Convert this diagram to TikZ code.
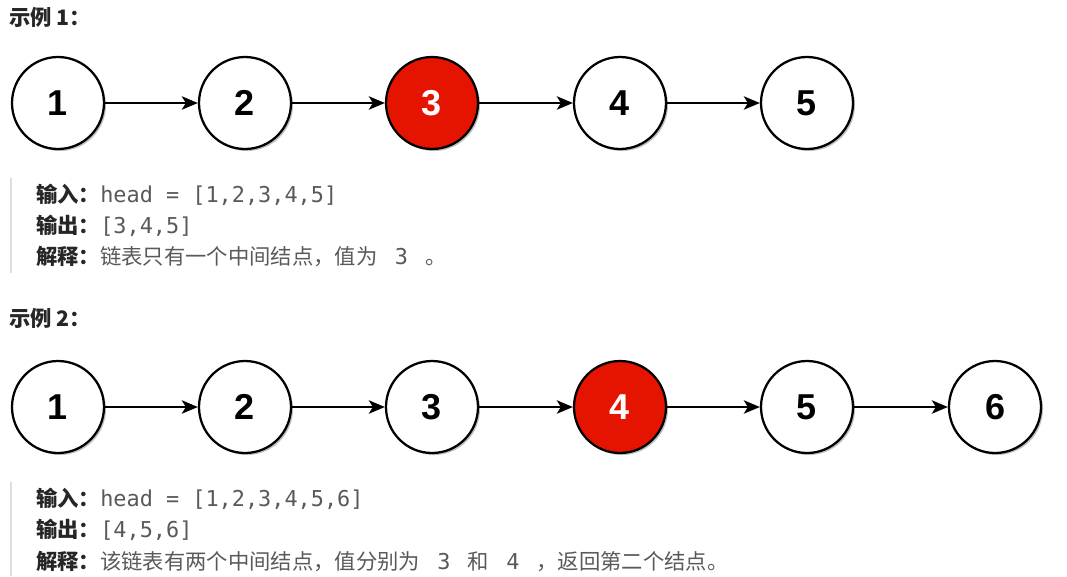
\documentclass[tikz,border=0pt]{standalone}
\usepackage{fontspec}
\setmainfont{Liberation Sans}
\newfontfamily\cjk{Noto Sans CJK SC}
\newfontfamily\mono{DejaVu Sans Mono}
\usetikzlibrary{arrows.meta,shadows}
\definecolor{nodered}{HTML}{E51400}
\definecolor{txtgray}{HTML}{595959}
\definecolor{lblgray}{HTML}{262626}
\definecolor{bargray}{HTML}{DDDDDD}
\tikzset{
  lnode/.style={circle,draw=black,line width=1.7pt,fill=white,minimum size=69pt,inner sep=0pt,
    font=\fontsize{27}{27}\selectfont\bfseries,text=black,
    drop shadow={shadow xshift=1.5pt,shadow yshift=-1.5pt,opacity=0.25,fill=black}},
  hot/.style={fill=nodered,text=white},
  link/.style={line width=1.6pt,-{Stealth[length=12pt,width=10pt,inset=3pt]}},
  title/.style={anchor=west,inner sep=0pt,font=\cjk\bfseries\fontsize{16}{16}\selectfont,text=lblgray},
  line/.style={anchor=west,inner sep=0pt,font=\fontsize{16}{16}\selectfont,text=txtgray},
  bar/.style={draw=bargray,line width=1.5pt}
}
\newcommand{\lb}[1]{{\cjk\bfseries\color{lblgray}#1}}
\newcommand{\mt}[1]{{\mono\fontsize{16.4}{16.4}\selectfont #1}}
\newcommand{\ct}[1]{{\cjk\fontsize{16}{16}\selectfont #1}}
\begin{document}
\begin{tikzpicture}[x=0.75pt,y=-0.75pt]
\useasboundingbox (0,0) rectangle (1067,576);
% Example 1
\node[title] (t1) at (9,17) {示例 1：};
\node[lnode] (a1) at (58,103) {1};
\node[lnode] (a2) at (245,103) {2};
\node[lnode,hot] (a3) at (432,103) {3};
\node[lnode] (a4) at (620,103) {4};
\node[lnode] (a5) at (807,103) {5};
\draw[link] (a1) -- (a2);
\draw[link] (a2) -- (a3);
\draw[link] (a3) -- (a4);
\draw[link] (a4) -- (a5);
\coordinate (b1s) at (11,178);
\coordinate (b1e) at (11,273);
\draw[bar] (b1s) -- (b1e);
\node[line] (i1) at (36,195) {\lb{\ct{输入：}}\mt{head = [1,2,3,4,5]}};
\node[line] (o1) at (36,226) {\lb{\ct{输出：}}\mt{[3,4,5]}};
\node[line] (e1) at (36,257) {\lb{\ct{解释：}}\ct{链表只有一个中间结点，值为}\mt{\hspace{3pt} 3 \hspace{3pt}}\ct{。}};
% Example 2
\node[title] (t2) at (9,318) {示例 2：};
\node[lnode] (c1) at (58,407) {1};
\node[lnode] (c2) at (245,407) {2};
\node[lnode] (c3) at (432,407) {3};
\node[lnode,hot] (c4) at (620,407) {4};
\node[lnode] (c5) at (807,407) {5};
\node[lnode] (c6) at (995,407) {6};
\draw[link] (c1) -- (c2);
\draw[link] (c2) -- (c3);
\draw[link] (c3) -- (c4);
\draw[link] (c4) -- (c5);
\draw[link] (c5) -- (c6);
\coordinate (b2s) at (11,482);
\coordinate (b2e) at (11,576);
\draw[bar] (b2s) -- (b2e);
\node[line] (i2) at (36,499) {\lb{\ct{输入：}}\mt{head = [1,2,3,4,5,6]}};
\node[line] (o2) at (36,530) {\lb{\ct{输出：}}\mt{[4,5,6]}};
\node[line] (e2) at (36,561) {\lb{\ct{解释：}}\ct{该链表有两个中间结点，值分别为}\mt{\hspace{3pt} 3 \hspace{3pt}}\ct{和}\mt{\hspace{3pt} 4 \hspace{3pt}}\ct{，返回第二个结点。}};
\end{tikzpicture}
\end{document}
